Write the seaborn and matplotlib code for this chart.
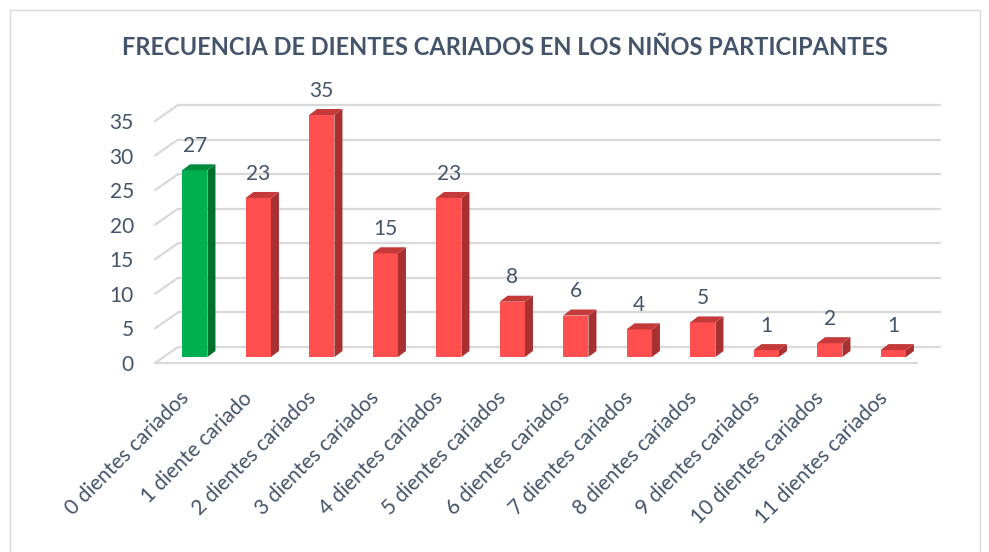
import matplotlib.pyplot as plt
import matplotlib.transforms as mtransforms
import pandas as pd
import seaborn as sns
from matplotlib.patches import Polygon, Rectangle

# Data
categorias = ['0 dientes cariados', '1 diente cariado', '2 dientes cariados',
              '3 dientes cariados', '4 dientes cariados', '5 dientes cariados',
              '6 dientes cariados', '7 dientes cariados', '8 dientes cariados',
              '9 dientes cariados', '10 dientes cariados', '11 dientes cariados']
frecuencia = [27, 23, 35, 15, 23, 8, 6, 4, 5, 1, 2, 1]
y_ticks = [0, 5, 10, 15, 20, 25, 30, 35]

titulo = 'FRECUENCIA DE DIENTES CARIADOS EN LOS NIÑOS PARTICIPANTES'

# colours (front, side, top)
verde = ('#00b050', '#00702f', '#008c3c')
rojo = ('#ff4f4f', '#a83030', '#c43a3a')
texto = '#44546a'
grid = '#d9d9d9'

sns.set_style('white')
plt.rcParams['font.family'] = ['Lato', 'DejaVu Sans']

W, H = 989, 552
fig = plt.figure(figsize=(W / 100, H / 100), dpi=100)
# axes = plane of the bars' front faces
left, right, bottom, top = 163, 925, 357, 115
ax = fig.add_axes([left / W, 1 - bottom / H, (right - left) / W, (bottom - top) / H])

df = pd.DataFrame({'categoria': categorias, 'frecuencia': frecuencia})
estilos = [verde if i == 0 else rojo for i in range(len(categorias))]
sns.barplot(data=df, x='categoria', y='frecuencia', hue='categoria',
            palette=[e[0] for e in estilos], width=0.4, saturation=1,
            legend=False, ax=ax, zorder=3)
ax.set_xlim(-0.5, len(categorias) - 0.5)
ax.set_ylim(0, 35)
for s in ax.spines.values():
    s.set_visible(False)

px_x = (right - left) / len(categorias)
px_y = (bottom - top) / 35

# pseudo-3D walls: front plane, back plane offsets (in data units)
fx, fy = -8 / px_x, -6 / px_y
bx, by = 15 / px_x, 10 / px_y
x0, x1 = -0.5, len(categorias) - 0.5
for v in y_ticks:
    ax.plot([x0 + bx, x1 + bx], [v + by, v + by], color=grid, lw=1.6,
            zorder=0, clip_on=False)
    ax.plot([x0 + fx, x0 + bx], [v + fy, v + by], color=grid, lw=1.6,
            zorder=0, clip_on=False)
ax.plot([x0 + fx, x1 + fx], [fy, fy], color=grid, lw=1.6, zorder=0, clip_on=False)

# bar sides and tops
ddx, ddy = 8 / px_x, 6 / px_y
for p in list(ax.patches):
    xa = p.get_x()
    w = p.get_width()
    h = p.get_height()
    i = int(round(xa + w / 2))
    c = estilos[i]
    p.set_edgecolor('none')
    p.set_clip_on(False)
    side = [(xa + w, 0), (xa + w + ddx, ddy), (xa + w + ddx, h + ddy), (xa + w, h)]
    tapa = [(xa, h), (xa + w, h), (xa + w + ddx, h + ddy), (xa + ddx, h + ddy)]
    ax.add_patch(Polygon(side, closed=True, facecolor=c[1], edgecolor='none',
                         zorder=3, clip_on=False))
    ax.add_patch(Polygon(tapa, closed=True, facecolor=c[2], edgecolor='none',
                         zorder=3, clip_on=False))
    ax.annotate(str(frecuencia[i]), (xa + w / 2, h), xytext=(0, 17.5),
                textcoords='offset points', ha='center', va='center',
                fontsize=15, color=texto, annotation_clip=False)

# ticks
ax.set_yticks(y_ticks)
ax.set_yticklabels([str(t) for t in y_ticks])
ax.tick_params(axis='y', length=0, pad=21, labelsize=15, labelcolor=texto)
for lab in ax.get_yticklabels():
    lab.set_transform(lab.get_transform() +
                      mtransforms.ScaledTranslation(0, -0.06, fig.dpi_scale_trans))

ax.set_xticks(range(len(categorias)))
ax.set_xticklabels(categorias, rotation=45, ha='right', va='center',
                   rotation_mode='anchor')
ax.tick_params(axis='x', length=0, pad=0, labelsize=15, labelcolor=texto)
for lab in ax.get_xticklabels():
    lab.set_transform(lab.get_transform() +
                      mtransforms.ScaledTranslation(-0.09, -0.38, fig.dpi_scale_trans))
ax.set_xlabel('')
ax.set_ylabel('')

fig.text(505 / W, 1 - 48 / H, titulo, ha='center', va='center',
         fontsize=17, fontweight='bold', color=texto)

# chart border
fig.patches.append(Rectangle((10 / W, -0.02), 970 / W, 1 - 10 / H + 0.02,
                             transform=fig.transFigure, fill=False,
                             edgecolor=grid, lw=1))

fig.savefig('out.png', dpi=100)
